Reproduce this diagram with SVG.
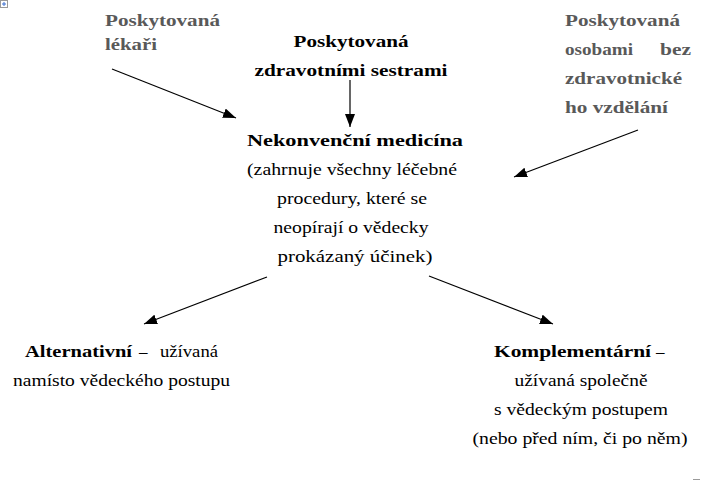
<svg xmlns="http://www.w3.org/2000/svg" width="719" height="481" viewBox="0 0 719 481">
<style>
text{font-size:17px;fill:#000}
.b{font-weight:bold}
.g{font-weight:bold;fill:#595959;font-size:16.5px}
.c{text-anchor:middle}
.ln{stroke:#000;stroke-width:1.2;fill:none;marker-end:url(#ah)}
</style>
<defs>
<marker id="ah" markerUnits="userSpaceOnUse" markerWidth="14" markerHeight="10" refX="13" refY="5" orient="auto">
<path d="M0,0 L13,5 L0,10 Z" fill="#000"/>
</marker>
</defs>
<rect x="0.5" y="0.5" width="7" height="7" fill="#fff" stroke="#9a9a9a" stroke-width="1"/>
<path d="M4,2 V6 M2,4 H6" stroke="#3a6fd0" stroke-width="1"/>
<line x1="693" y1="479.5" x2="700" y2="479.5" stroke="#9a9a9a" stroke-width="1"/>
<g font-family="Liberation Serif, Times New Roman, serif">
<g id="node-lekari">
<text class="g" x="105" y="26" textLength="115" lengthAdjust="spacingAndGlyphs">Poskytovaná</text>
<text class="g" x="105" y="50" textLength="52" lengthAdjust="spacingAndGlyphs">lékaři</text>
</g>
<g id="node-sestry">
<text class="b c" x="351" y="47" textLength="115" lengthAdjust="spacingAndGlyphs">Poskytovaná</text>
<text class="b c" x="351" y="76" textLength="193" lengthAdjust="spacingAndGlyphs">zdravotními sestrami</text>
</g>
<g id="node-laici">
<text class="g" x="565" y="26" textLength="115" lengthAdjust="spacingAndGlyphs">Poskytovaná</text>
<text class="g" x="565" y="55" textLength="68" lengthAdjust="spacingAndGlyphs">osobami</text>
<text class="g" x="660" y="55" textLength="31" lengthAdjust="spacingAndGlyphs">bez</text>
<text class="g" x="565" y="84" textLength="117" lengthAdjust="spacingAndGlyphs">zdravotnické</text>
<text class="g" x="565" y="113" textLength="103" lengthAdjust="spacingAndGlyphs">ho vzdělání</text>
</g>
<g id="node-nekonvencni">
<text class="b c" x="355" y="146" textLength="216" lengthAdjust="spacingAndGlyphs">Nekonvenční medicína</text>
<text class="c" x="352" y="175" textLength="210" lengthAdjust="spacingAndGlyphs">(zahrnuje všechny léčebné</text>
<text class="c" x="352" y="204" textLength="150" lengthAdjust="spacingAndGlyphs">procedury, které se</text>
<text class="c" x="351" y="233" textLength="155" lengthAdjust="spacingAndGlyphs">neopírají o vědecky</text>
<text class="c" x="355" y="262" textLength="155" lengthAdjust="spacingAndGlyphs">prokázaný účinek)</text>
</g>
<g id="node-alternativni">
<text x="25" y="357"><tspan class="b" textLength="107" lengthAdjust="spacingAndGlyphs">Alternativní</tspan><tspan x="139">–</tspan><tspan x="160" textLength="58" lengthAdjust="spacingAndGlyphs">užívaná</tspan></text>
<text x="13" y="386" textLength="217" lengthAdjust="spacingAndGlyphs">namísto vědeckého postupu</text>
</g>
<g id="node-komplementarni">
<text x="494" y="357"><tspan class="b" textLength="157" lengthAdjust="spacingAndGlyphs">Komplementární</tspan><tspan x="656">–</tspan></text>
<text class="c" x="581" y="386" textLength="133" lengthAdjust="spacingAndGlyphs">užívaná společně</text>
<text class="c" x="581" y="415" textLength="174" lengthAdjust="spacingAndGlyphs">s vědeckým postupem</text>
<text class="c" x="580" y="444" textLength="215" lengthAdjust="spacingAndGlyphs">(nebo před ním, či po něm)</text>
</g>
</g>
<g id="connectors">
<line class="ln" x1="112" y1="69" x2="236" y2="118"/>
<line class="ln" x1="350" y1="80" x2="350" y2="127"/>
<line class="ln" x1="638" y1="130" x2="514" y2="177"/>
<line class="ln" x1="267" y1="277" x2="144" y2="324"/>
<line class="ln" x1="429" y1="276" x2="553" y2="324"/>
</g>
</svg>
